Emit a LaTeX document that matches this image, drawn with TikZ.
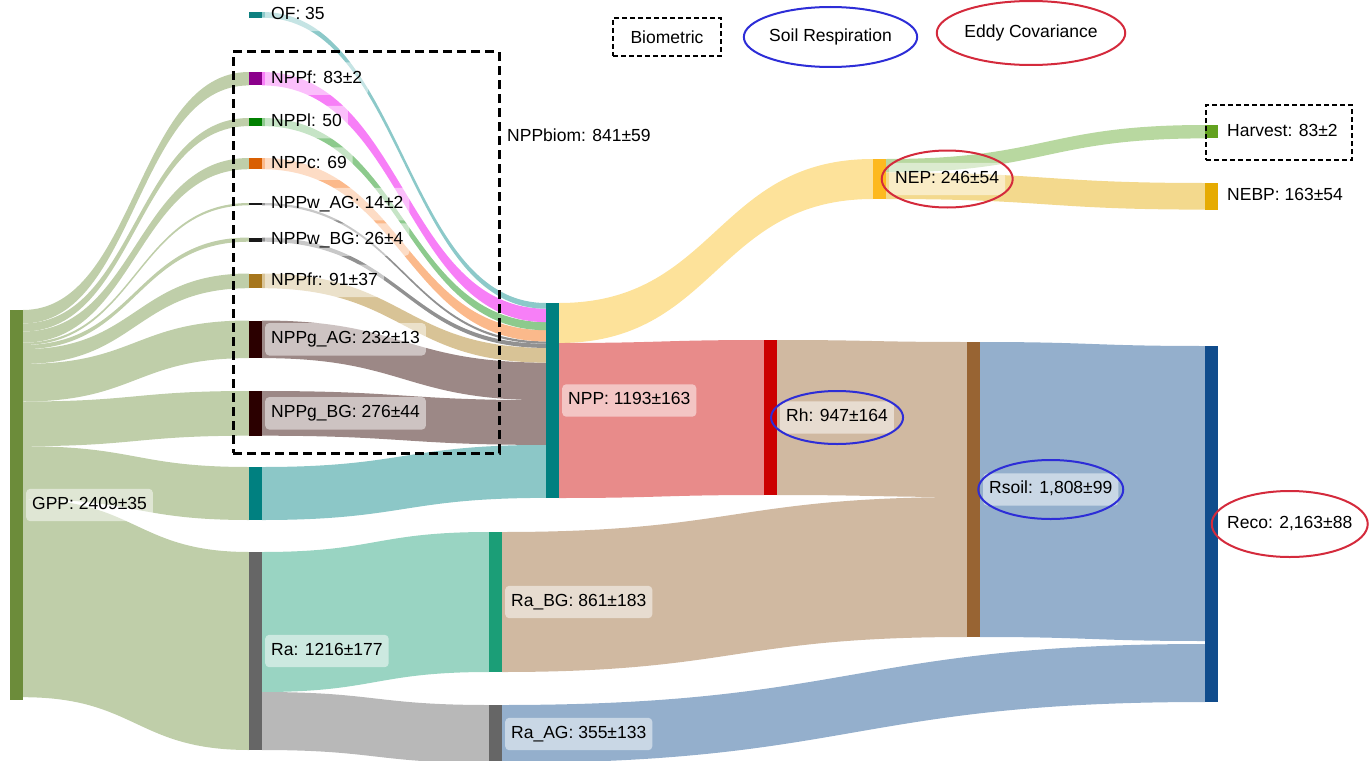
\documentclass[tikz,border=0pt]{standalone}
\usepackage{fontspec}
\setmainfont{Liberation Sans}
\usetikzlibrary{positioning,shapes.geometric,calc}

% node colours
\definecolor{gppbar}{RGB}{108,140,58}
\definecolor{ofbar}{RGB}{14,128,128}
\definecolor{fbar}{RGB}{139,0,139}
\definecolor{lbar}{RGB}{0,128,0}
\definecolor{cbar}{RGB}{217,95,2}
\definecolor{wbar}{RGB}{25,25,25}
\definecolor{frbar}{RGB}{166,118,29}
\definecolor{gbar}{RGB}{43,0,0}
\definecolor{tealbar}{RGB}{0,128,128}
\definecolor{greybar}{RGB}{102,102,102}
\definecolor{rabgbar}{RGB}{27,158,119}
\definecolor{rhbar}{RGB}{204,0,0}
\definecolor{nepbar}{RGB}{253,185,31}
\definecolor{rsoilbar}{RGB}{152,100,51}
\definecolor{recobar}{RGB}{16,76,140}
\definecolor{harvbar}{RGB}{99,162,31}
\definecolor{nebpbar}{RGB}{230,171,2}
% link colours
\definecolor{gppflow}{RGB}{191,206,169}
\definecolor{offlow}{RGB}{140,201,201}
\definecolor{fflow}{RGB}{247,127,247}
\definecolor{lflow}{RGB}{141,202,141}
\definecolor{cflow}{RGB}{251,185,139}
\definecolor{wflow}{RGB}{145,145,145}
\definecolor{frflow}{RGB}{216,195,150}
\definecolor{gflow}{RGB}{156,136,134}
\definecolor{xflow}{RGB}{140,199,199}
\definecolor{rabgflow}{RGB}{153,212,194}
\definecolor{raagflow}{RGB}{184,184,184}
\definecolor{nepflow}{RGB}{253,226,154}
\definecolor{rhflow}{RGB}{232,139,138}
\definecolor{soilflow}{RGB}{208,185,161}
\definecolor{recoflow}{RGB}{148,175,204}
\definecolor{harvflow}{RGB}{184,216,160}
\definecolor{nebpflow}{RGB}{243,217,141}
% rings
\definecolor{soilblue}{RGB}{45,45,215}
\definecolor{eddyred}{RGB}{212,42,60}

% colour, from node, offset there, to node, offset there, width
\newcommand{\flow}[6]{%
  \fill[#1] let \p1=(#2.north east), \p2=(#4.north west),
    \p3=($(#2.north east)!0.5!(#4.north west)$) in
    (\x1,\y1-#3pt) .. controls (\x3,\y1-#3pt) and (\x3,\y2-#5pt) .. (\x2,\y2-#5pt)
    -- (\x2,\y2-#5pt-#6pt) .. controls (\x3,\y2-#5pt-#6pt) and (\x3,\y1-#3pt-#6pt) .. (\x1,\y1-#3pt-#6pt)
    -- cycle;}

\begin{document}
\begin{tikzpicture}[
  x=1pt, y=-1pt,
  font=\fontsize{17.5}{21}\selectfont,
  nodebar/.style={inner sep=0pt, outer sep=0pt, minimum width=13pt, anchor=north west},
  nlabel/.style={fill=white, fill opacity=0.5, text opacity=1, rounded corners=4pt,
    inner xsep=6pt, inner ysep=8pt, text height=12.6pt, text depth=3.8pt},
  ring/.style={ellipse, draw, line width=2pt, inner sep=0pt},
  dbox/.style={draw, line width=2pt, dash pattern=on 5pt off 3pt}
]
\useasboundingbox (0,0) rectangle (1370,760);

% nodes of the sankey
\node[nodebar, fill=gppbar, minimum height=390pt] (gpp) at (10,310) {};
\node[nodebar, fill=ofbar, minimum height=5.7pt] (of) at (249,12) {};
\node[nodebar, fill=fbar, minimum height=13.4pt] (nppf) at (249,72) {};
\node[nodebar, fill=lbar, minimum height=8.1pt] (nppl) at (249,118) {};
\node[nodebar, fill=cbar, minimum height=11.2pt] (nppc) at (249,158) {};
\node[nodebar, fill=wbar, minimum height=2.3pt] (nppwag) at (249,203) {};
\node[nodebar, fill=wbar, minimum height=4.2pt] (nppwbg) at (249,237.5) {};
\node[nodebar, fill=frbar, minimum height=14.7pt] (nppfr) at (249,273.5) {};
\node[nodebar, fill=gbar, minimum height=37.6pt] (nppgag) at (249,320.5) {};
\node[nodebar, fill=gbar, minimum height=44.7pt] (nppgbg) at (249,391) {};
\node[nodebar, fill=tealbar, minimum height=53pt] (nppx) at (249,467) {};
\node[nodebar, fill=greybar, minimum height=198pt] (ra) at (249,552) {};
\node[nodebar, fill=tealbar, minimum height=195pt] (npp) at (546,303) {};
\node[nodebar, fill=rabgbar, minimum height=140pt] (rabg) at (489,532) {};
\node[nodebar, fill=greybar, minimum height=58pt] (raag) at (489,705) {};
\node[nodebar, fill=rhbar, minimum height=155pt] (rh) at (764,340) {};
\node[nodebar, fill=nepbar, minimum height=40pt] (nep) at (873,159) {};
\node[nodebar, fill=rsoilbar, minimum height=295pt] (rsoil) at (967,342) {};
\node[nodebar, fill=recobar, minimum height=356pt] (reco) at (1205,346) {};
\node[nodebar, fill=harvbar, minimum height=13.4pt] (harv) at (1205,125) {};
\node[nodebar, fill=nebpbar, minimum height=26.6pt] (nebp) at (1205,183) {};

% links
\flow{gppflow}{gpp}{0}{nppf}{0}{13.4}
\flow{gppflow}{gpp}{13.4}{nppl}{0}{8.1}
\flow{gppflow}{gpp}{21.5}{nppc}{0}{11.2}
\flow{gppflow}{gpp}{32.7}{nppwag}{0}{2.3}
\flow{gppflow}{gpp}{35}{nppwbg}{0}{4.2}
\flow{gppflow}{gpp}{39.2}{nppfr}{0}{14.7}
\flow{gppflow}{gpp}{53.9}{nppgag}{0}{37.6}
\flow{gppflow}{gpp}{91.5}{nppgbg}{0}{44.7}
\flow{gppflow}{gpp}{136.2}{nppx}{0}{53}
\flow{gppflow}{gpp}{189.2}{ra}{0}{198}
\flow{rabgflow}{ra}{0}{rabg}{0}{140}
\flow{raagflow}{ra}{140}{raag}{0}{58}
\flow{xflow}{nppx}{0}{npp}{141.9}{53}
\flow{gflow}{nppgbg}{0}{npp}{97.2}{44.7}
\flow{gflow}{nppgag}{0}{npp}{59.6}{37.6}
\flow{frflow}{nppfr}{0}{npp}{44.9}{14.7}
\flow{wflow}{nppwbg}{0}{npp}{40.7}{4.2}
\flow{wflow}{nppwag}{0}{npp}{38.4}{2.3}
\flow{cflow}{nppc}{0}{npp}{27.2}{11.2}
\flow{lflow}{nppl}{0}{npp}{19.1}{8.1}
\flow{fflow}{nppf}{0}{npp}{5.7}{13.4}
\flow{offlow}{of}{0}{npp}{0}{5.7}
\flow{nepflow}{npp}{0}{nep}{0}{40}
\flow{rhflow}{npp}{40}{rh}{0}{155}
\flow{harvflow}{nep}{0}{harv}{0}{13.4}
\flow{nebpflow}{nep}{13.4}{nebp}{0}{26.6}
\flow{soilflow}{rh}{0}{rsoil}{0}{155}
\flow{soilflow}{rabg}{0}{rsoil}{155}{140}
\flow{recoflow}{rsoil}{0}{reco}{0}{295}
\flow{recoflow}{raag}{0}{reco}{298}{58}

% bars again on top of the links
\foreach \n/\c in {gpp/gppbar, of/ofbar, nppf/fbar, nppl/lbar, nppc/cbar, nppwag/wbar,
  nppwbg/wbar, nppfr/frbar, nppgag/gbar, nppgbg/gbar, nppx/tealbar, ra/greybar,
  npp/tealbar, rabg/rabgbar, raag/greybar, rh/rhbar, nep/nepbar, rsoil/rsoilbar,
  reco/recobar, harv/harvbar, nebp/nebpbar}
  \fill[\c] (\n.north west) rectangle (\n.south east);

% labels
\node[nlabel, right=3pt of gpp] (gpplab) {GPP: 2409±35};
\node[nlabel, right=3pt of of] (oflab) {OF: 35};
\node[nlabel, right=3pt of nppf] (nppflab) {NPPf: 83±2};
\node[nlabel, right=3pt of nppl] (nppllab) {NPPl: 50};
\node[nlabel, right=3pt of nppc] (nppclab) {NPPc: 69};
\node[nlabel, right=3pt of nppwag] (nppwaglab) {NPPw\_AG: 14±2};
\node[nlabel, right=3pt of nppwbg] (nppwbglab) {NPPw\_BG: 26±4};
\node[nlabel, right=3pt of nppfr] (nppfrlab) {NPPfr: 91±37};
\node[nlabel, right=3pt of nppgag] (nppgaglab) {NPPg\_AG: 232±13};
\node[nlabel, right=3pt of nppgbg] (nppgbglab) {NPPg\_BG: 276±44};
\node[nlabel, right=3pt of ra] (ralab) {Ra: 1216±177};
\node[nlabel, right=3pt of npp] (npplab) {NPP: 1193±163};
\node[nlabel, right=3pt of rabg] (rabglab) {Ra\_BG: 861±183};
\node[nlabel, right=3pt of raag] (raaglab) {Ra\_AG: 355±133};
\node[nlabel, right=3pt of rh] (rhlab) {Rh: 947±164};
\node[nlabel, right=3pt of nep] (neplab) {NEP: 246±54};
\node[nlabel, right=3pt of rsoil] (rsoillab) {Rsoil: 1,808±99};
\node[nlabel, right=3pt of reco] (recolab) {Reco: 2,163±88};
\node[nlabel, right=3pt of harv] (harvlab) {Harvest: 83±2};
\node[nlabel, right=3pt of nebp] (nebplab) {NEBP: 163±54};

% measurement marks
\node[dbox, line width=3pt, dash pattern=on 9pt off 5pt, minimum width=266pt,
  minimum height=401pt] (biombox) at (366,252.5) {};
\node[anchor=west, inner sep=0pt] (biomlab) at (507,135) {NPPbiom: 841±59};
\node[dbox, minimum width=146pt, minimum height=55pt] (harvbox) at (1279,132.5) {};
\node[ring, draw=soilblue, minimum width=132pt, minimum height=53pt] (rhring) at (rhlab) {};
\node[ring, draw=soilblue, minimum width=145pt, minimum height=59pt] (rsoilring) at (rsoillab) {};
\node[ring, draw=eddyred, minimum width=156pt, minimum height=66pt] (recoring) at (recolab) {};
\node[ring, draw=eddyred, minimum width=131pt, minimum height=57pt] (nepring) at (neplab) {};

% legend
\node[dbox, minimum width=108pt, minimum height=38pt] (legbiom) at (667,37) {Biometric};
\node[ring, draw=soilblue, minimum width=147pt, minimum height=60pt] (legsoil) at (830.5,37) {Soil Respiration};
\node[ring, draw=eddyred, minimum width=164pt, minimum height=64pt] (legeddy) at (1031,33) {Eddy Covariance};
\end{tikzpicture}
\end{document}
